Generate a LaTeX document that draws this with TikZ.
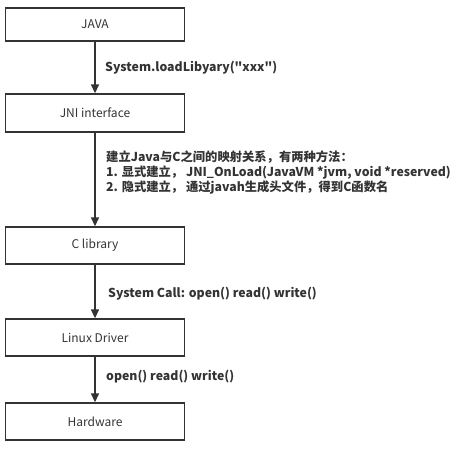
\documentclass[tikz,border=0pt]{standalone}
\usepackage{fontspec}
\setmainfont{Noto Sans CJK SC}
\newfontfamily\yh{Noto Sans CJK SC}
\usetikzlibrary{arrows.meta}
\definecolor{ink}{HTML}{333333}
\begin{document}
\begin{tikzpicture}[x=1pt,y=-1pt,
  layer/.style={draw=ink,line width=1.4pt,minimum width=179pt,inner sep=0pt,text=ink,font=\yh\fontsize{12}{14}\selectfont},
  flow/.style={draw=ink,line width=1.4pt,-{Triangle[length=9pt,width=8pt]}},
  lbl/.style={text=ink,font=\yh\fontsize{12.3}{15}\selectfont\bfseries,inner sep=0pt,anchor=west,align=left}]
\useasboundingbox (0,0) rectangle (473,448);
\node[layer,minimum height=33pt] (java) at (95,24.5) {JAVA};
\node[layer,minimum height=38pt] (jni) at (95,113) {JNI interface};
\node[layer,minimum height=37pt] (clib) at (95,245.5) {C library};
\node[layer,minimum height=37pt] (drv) at (95,337.5) {Linux Driver};
\node[layer,minimum height=37pt] (hw) at (95,421.5) {Hardware};
\draw[flow] (java) -- (jni);
\draw[flow] (jni) -- (clib);
\draw[flow] (clib) -- (drv);
\draw[flow] (drv) -- (hw);
\node[lbl] (l1) at (105,68) {System.loadLibyary("xxx")};
\node[lbl,anchor=north west] (l2) at (106,151) {建立Java与C之间的映射关系，有两种方法：\\1. 显式建立， JNI\_OnLoad(JavaVM *jvm, void *reserved)\\2. 隐式建立， 通过javah生成头文件，得到C函数名};
\node[lbl] (l3) at (108,294) {System Call: open() read() write()};
\node[lbl] (l4) at (106,377) {open() read() write()};
\end{tikzpicture}
\end{document}
